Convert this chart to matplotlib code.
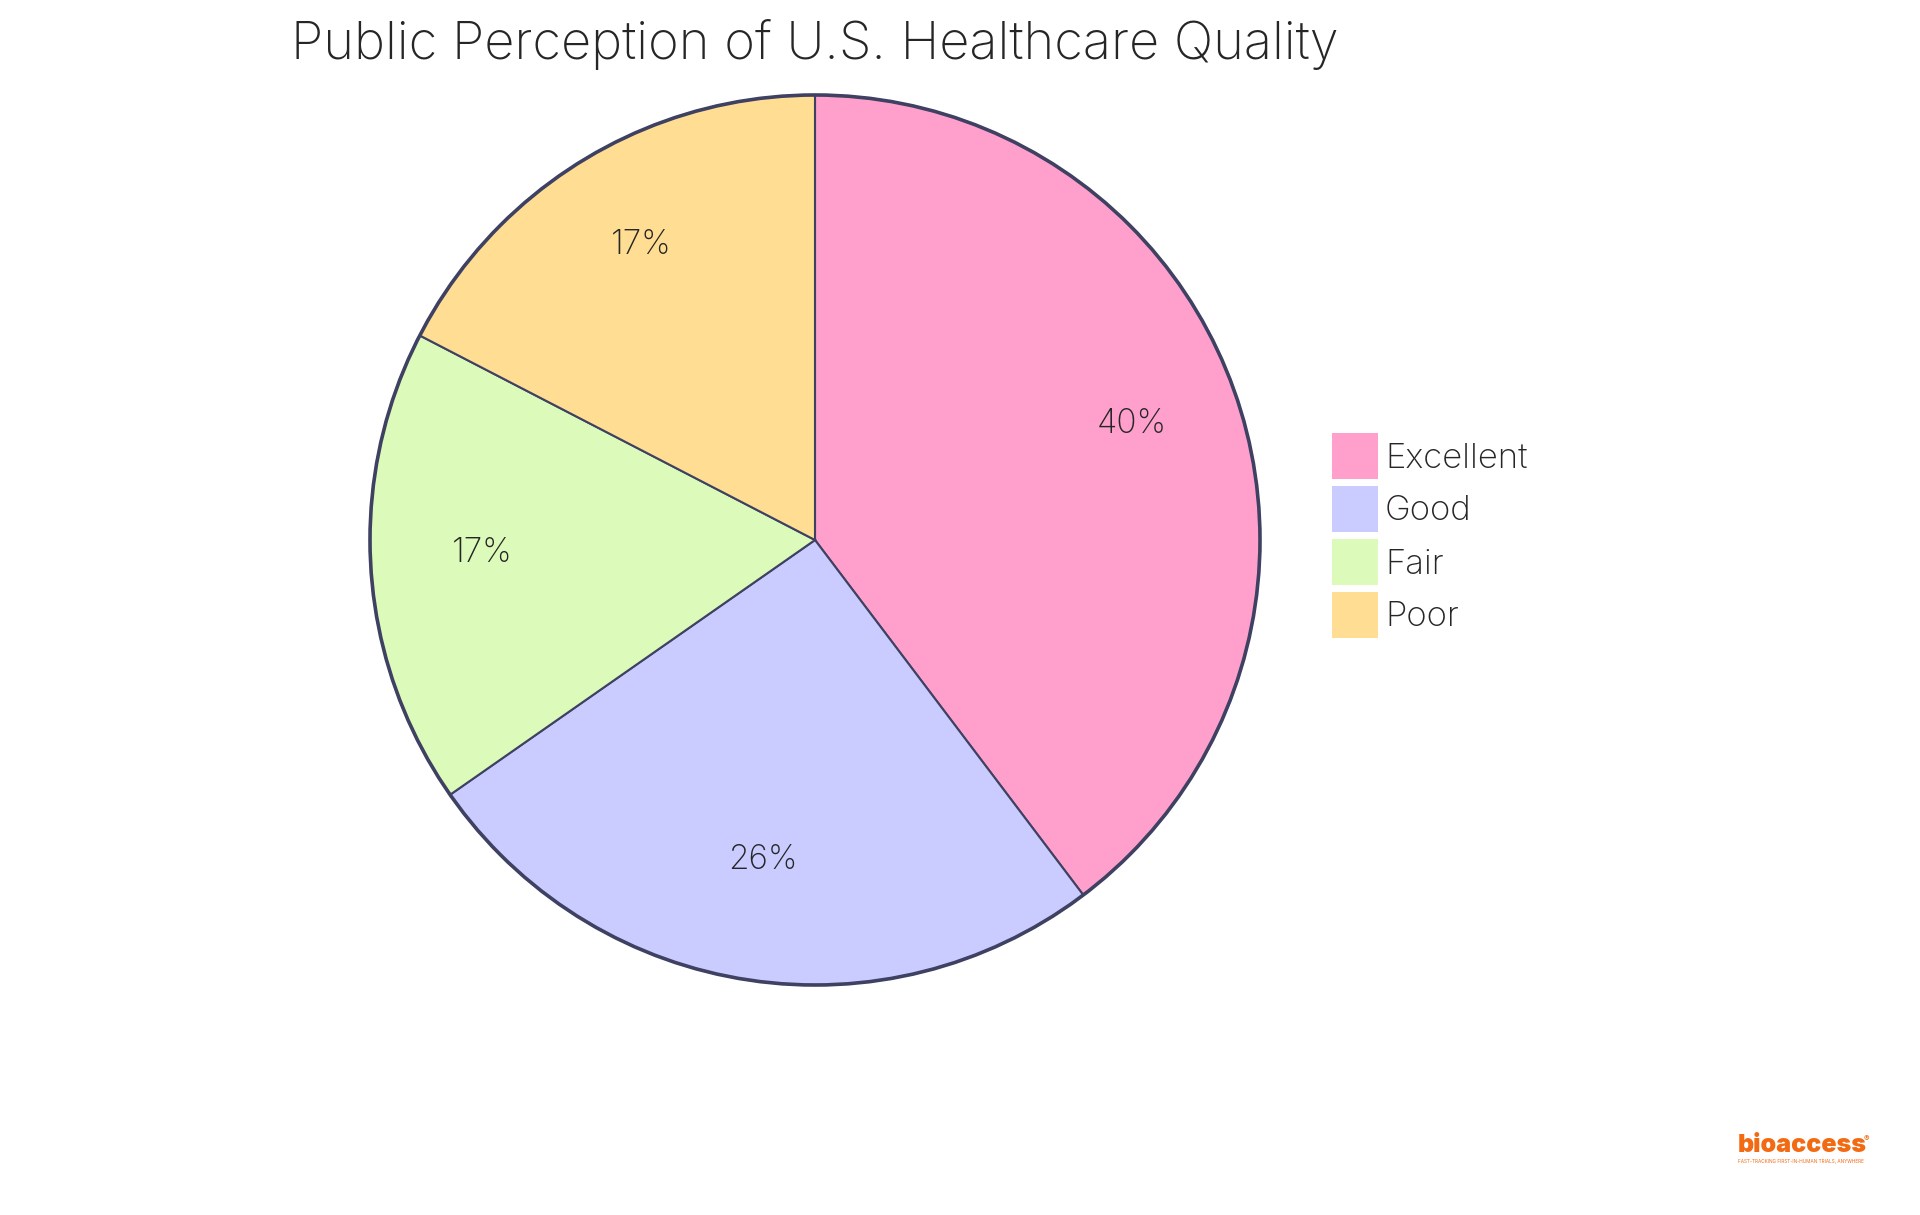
#!/usr/bin/env python
"""Pie chart of public perception of U.S. healthcare quality."""

import matplotlib

matplotlib.use("Agg")
import matplotlib.pyplot as plt
from matplotlib.patches import Circle, Rectangle

TITLE = "Public Perception of U.S. Healthcare Quality"
CATEGORIES = ["Excellent", "Good", "Fair", "Poor"]
SHARES = [39.7, 25.6, 17.3, 17.4]
COLORS = ["#FFA0CC", "#CACBFF", "#DCFABA", "#FFDD92"]

EDGE = "#3F4162"
TEXT = "#262626"
ORANGE = "#F26A12"
FONT = "Inter"

plt.rcParams["font.family"] = [FONT, "DejaVu Sans"]

fig = plt.figure(figsize=(19.2, 12.15), dpi=100)
ax = fig.add_axes([0, 0, 1, 1])

cx, cy, radius = 815, 540, 445
wedges, _, pct_texts = ax.pie(
    SHARES,
    colors=COLORS,
    center=(cx, -cy),
    radius=radius,
    startangle=90,
    counterclock=False,
    autopct="%.0f%%",
    pctdistance=0.75,
    wedgeprops={"edgecolor": EDGE, "linewidth": 1.5},
    textprops={"fontsize": 24, "color": TEXT, "fontweight": "light"},
    frame=True,
)
# the labels sit a little above the spot pie puts them
for t in pct_texts:
    x, y = t.get_position()
    t.set_position((x, y + 9.5))
ax.add_patch(Circle((cx, -cy), radius, fill=False, edgecolor=EDGE, linewidth=2.6))
ax.set_xlim(0, 1920)
ax.set_ylim(-1215, 0)
ax.set_aspect("equal")
ax.axis("off")

ax.text(815, -44, TITLE, ha="center", va="center", fontsize=37.7, color=TEXT, fontweight="light")

# legend by hand, the swatches sit at a fixed pitch
for i, (name, color) in enumerate(zip(CATEGORIES, COLORS)):
    top = 433 + i * 53
    ax.add_patch(Rectangle((1332, -top - 46), 46, 46, facecolor=color, edgecolor="none"))
    ax.text(1385, -top - 25.5, name, ha="left", va="center", fontsize=25, color=TEXT, fontweight="light")

# logo
ax.text(1738, -1145, "bioaccess", ha="left", va="center", fontsize=18,
        fontweight=900, color=ORANGE)
ax.text(1864, -1139, "®", ha="left", va="center", fontsize=6, color=ORANGE)
ax.text(1738, -1162, "FAST-TRACKING FIRST-IN-HUMAN TRIALS, ANYWHERE", ha="left", va="center",
        fontsize=3.4, color=ORANGE)

fig.savefig("out.png", dpi=100, facecolor="white")
